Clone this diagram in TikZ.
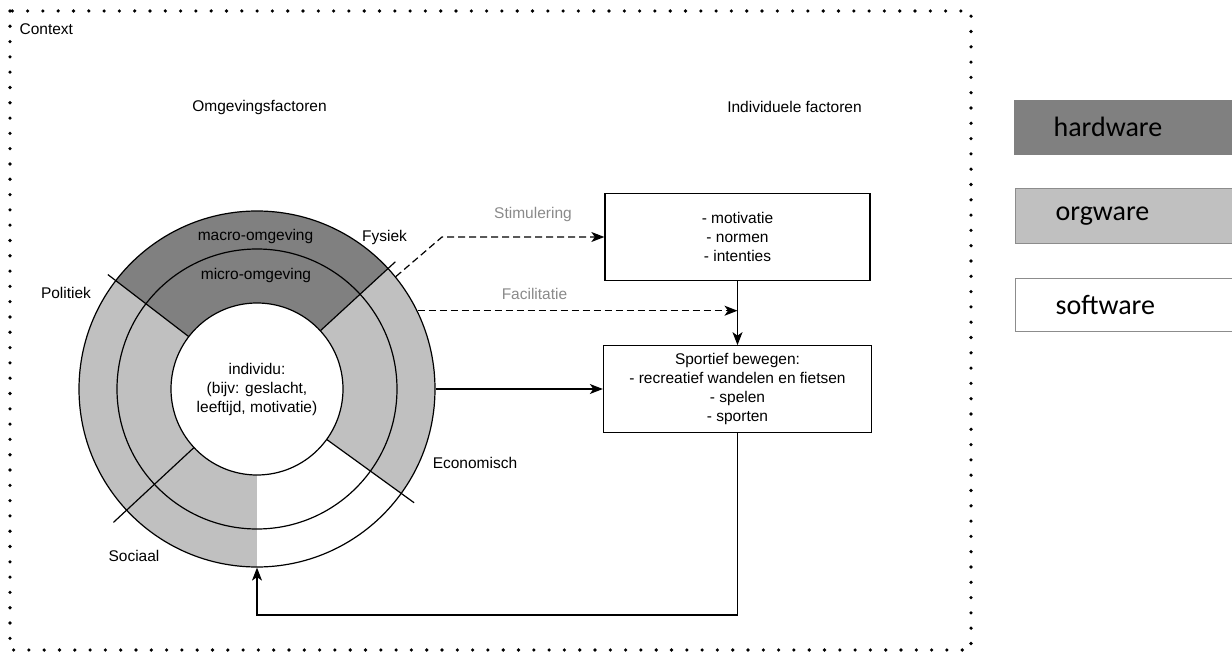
\documentclass[tikz,border=0pt]{standalone}
\usepackage{fontspec}
\setmainfont{Liberation Sans}
\newfontfamily\legendfont{Carlito}
\usetikzlibrary{positioning,arrows.meta}

\definecolor{hardgray}{HTML}{808080}
\definecolor{orggray}{HTML}{C0C0C0}
\definecolor{labelgray}{HTML}{8A8A8A}
\definecolor{boxedge}{HTML}{8C8C8C}

\begin{document}
\begin{tikzpicture}[x=1pt,y=-1pt,>={Stealth[length=13pt,width=10pt,inset=3.5pt]},
        line width=1.2pt,font=\fontsize{15.5}{19}\selectfont,
        main box/.style={draw,line width=1.3pt,minimum width=265pt,minimum height=87pt,
            align=center,inner sep=0pt},
        ring/.style={circle,draw,inner sep=0pt},
        legend box/.style={anchor=north west,minimum height=55pt,text width=150pt,
            inner xsep=40pt,align=left,font=\legendfont\fontsize{28}{30}\selectfont},
        dashed arrow/.style={->,dash pattern=on 7pt off 4pt},
        side label/.style={text=labelgray}]

    \useasboundingbox (0,0) rectangle (1232,652);

    % Context frame
    \draw[line width=3.6pt,line cap=round,dash pattern=on 0pt off 15.3pt] (10,11) rectangle (971,650);
    \node[anchor=west,inner sep=0pt] (context) at (19,29) {Context};
    \node (omgeving) at (259.5,107) {Omgevingsfactoren};
    \node (individueel) at (794.5,107) {Individuele factoren};

    % Rings
    \coordinate (c) at (257,389);
    \fill[orggray] (c) circle[radius=178];
    \begin{scope}[shift={(c)}]
        \fill[hardgray] (-42.6:178) arc[start angle=-42.6,end angle=-142.5,radius=178]
            -- (-142.5:86) arc[start angle=-142.5,end angle=-42.6,radius=86] -- cycle;
        \fill[white] (0,0) -- (90:178) arc[start angle=90,end angle=35.9,radius=178] -- cycle;
        \foreach \a/\r in {-42.6/188,-142.5/188,-222.9/196,-324.1/194}
            \draw (\a:86) -- (\a:\r);
    \end{scope}
    \node[ring,minimum size=356pt] (macro) at (c) {};
    \node[ring,minimum size=280pt] (micro) at (c) {};
    \node[ring,fill=white,minimum size=172pt,align=center] (individu) at (c)
        {individu:\\(bijv: geslacht,\\leeftijd, motivatie)};

    % Ring labels
    \node (macrolabel) at (255.5,236) {macro-omgeving};
    \node (microlabel) at (256,275) {micro-omgeving};
    \node (fysiek) at (384.5,237) {Fysiek};
    \node (politiek) at (66,293) {Politiek};
    \node (sociaal) at (134,556) {Sociaal};
    \node (economisch) at (475,463) {Economisch};

    % Define boxes
    \node[main box] (motivatie) at (737.5,237) {- motivatie\\- normen\\- intenties};
    \node[main box,minimum width=268pt] (bewegen) [below=64pt of motivatie]
        {Sportief bewegen:\\- recreatief wandelen en fietsen\\- spelen\\- sporten};

    % Draw edges
    \coordinate (stimbend) at (442,237);
    \coordinate (terug) at (257,615);
    \draw[dashed arrow] (macro.39) -- (stimbend) -- (motivatie.west);
    \draw[dashed arrow] (macro.26.7) -- (macro.26.7 -| motivatie.south);
    \node[side label] (stimulering) at (533,214) {Stimulering};
    \node[side label] (facilitatie) at (534.5,294) {Facilitatie};
    \path[->]
        (motivatie.south) edge (motivatie.south |- bewegen.north)
        (macro.east) edge (macro.east -| bewegen.west);
    \draw[->] (bewegen.south) |- (terug) -- (macro.south);

    % Legend
    \node[legend box,fill=hardgray] (hardware) at (1013,99) {hardware};
    \node[legend box,fill=orggray,draw=boxedge] (orgware) at (1015,188) {orgware};
    \node[legend box,fill=white,draw=boxedge,minimum height=53pt] (software) at (1015,278) {software};

\end{tikzpicture}
\end{document}
